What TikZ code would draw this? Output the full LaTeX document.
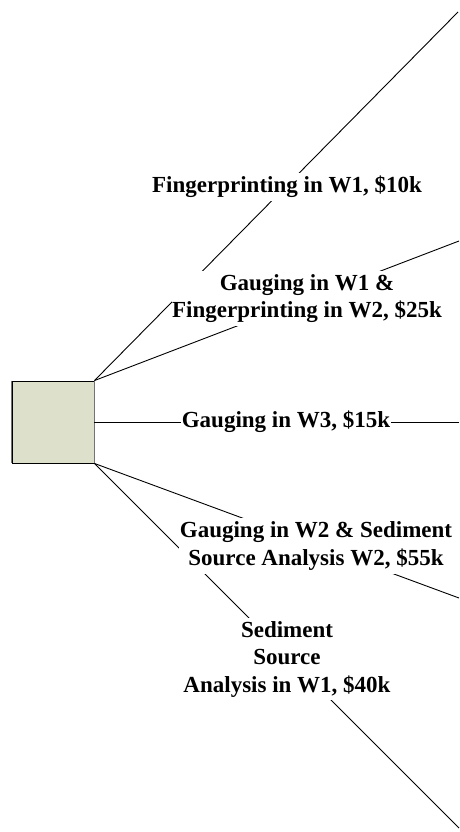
\documentclass[tikz,border=0pt]{standalone}
\usepackage{fontspec}
\setmainfont{Liberation Serif}
\begin{document}
\begin{tikzpicture}[x=1pt,y=-1pt,
  branch/.style={draw=black,line width=0.9pt},
  choice/.style={fill=white,font=\bfseries\fontsize{23}{27.5}\selectfont,
    align=center,inner xsep=0.5pt,inner ysep=3.5pt},
  decision/.style={draw=black,line width=0.9pt,fill=boxfill,minimum width=82pt,
    minimum height=82pt,inner sep=0pt}]
\definecolor{boxfill}{HTML}{DDE0CB}
\useasboundingbox (0,0) rectangle (459,832);

% decision node
\node[decision] (root) at (53,422) {};
\draw[black!55,line width=1.6pt] (root.north west) -- (root.south west)
  (root.north east) -- (root.south east);

% free ends of the branches
\coordinate (e1) at (458,12);
\coordinate (e2) at (459,241);
\coordinate (e3) at (459,422);
\coordinate (e4) at (459,598);
\coordinate (e5) at (459,828);

\draw[branch] (root.north east) -- (e1);
\draw[branch] (root.north east) -- (e2);
\draw[branch] (root.east) -- (e3);
\draw[branch] (root.south east) -- (e4);
\draw[branch] (root.south east) -- (e5);

% branch labels
\node[choice] (c1) at (287,187) {Fingerprinting in W1, \$10k};
\node[choice] (c2) at (307,298.5) {Gauging in W1 \&\\Fingerprinting in W2, \$25k};
\node[choice,inner ysep=2pt] (c3) at (286,422) {Gauging in W3, \$15k};
\node[choice] (c4) at (316,546) {Gauging in W2 \& Sediment\\Source Analysis W2, \$55k};
\node[choice] (c5) at (287,659) {Sediment\\Source\\Analysis in W1, \$40k};
\end{tikzpicture}
\end{document}
